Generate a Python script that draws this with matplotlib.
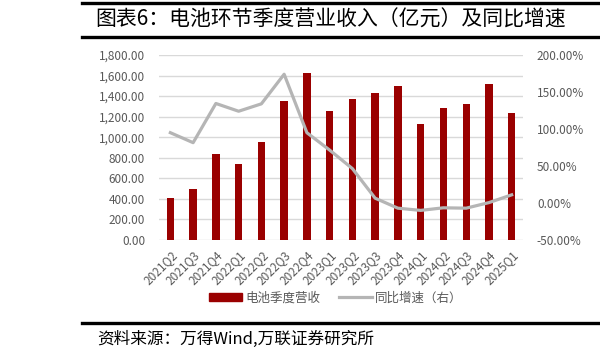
import matplotlib
matplotlib.use("Agg")
import matplotlib.pyplot as plt
from matplotlib.lines import Line2D
from matplotlib.patches import Patch

plt.rcParams['font.family'] = ['Noto Sans CJK SC', 'DejaVu Sans']

quarters = ["2021Q2", "2021Q3", "2021Q4", "2022Q1", "2022Q2", "2022Q3",
            "2022Q4", "2023Q1", "2023Q2", "2023Q3", "2023Q4", "2024Q1",
            "2024Q2", "2024Q3", "2024Q4", "2025Q1"]
revenue = [408, 497, 832, 738, 956, 1352, 1621, 1258, 1374, 1430, 1497,
           1127, 1286, 1320, 1513, 1238]
yoy = [95.0, 81.5, 134.5, 124.0, 134.0, 174.0, 95.0, 71.5, 46.5, 6.5,
       -7.0, -10.0, -6.5, -7.0, 0.5, 11.0]

ticks_left = [0, 200, 400, 600, 800, 1000, 1200, 1400, 1600, 1800]
ticks_right = [-50, 0, 50, 100, 150, 200]

bar_color = "#9A0000"
line_color = "#B5B5B5"
text_gray = "#595959"

fig = plt.figure(figsize=(6, 3.59), dpi=100)
ax = fig.add_axes([0.265, 0.3315, 0.6067, 0.5153])
ax2 = ax.twinx()

x = range(len(quarters))
ax.bar(x, revenue, width=0.32, color=bar_color, zorder=2)
ax2.plot(x, yoy, color=line_color, lw=2.3, zorder=3, solid_joinstyle="round")

ax.set_xlim(-0.5, len(quarters) - 0.5)
ax.set_ylim(0, 1800)
ax.set_yticks(ticks_left)
ax.set_yticklabels([f"{v:,.2f}" for v in ticks_left])
ax2.set_ylim(-50, 200)
ax2.set_yticks(ticks_right)
ax2.set_yticklabels([f"{v:.2f}%" for v in ticks_right])

ax.grid(axis="y", color="#D9D9D9", lw=1, zorder=0)
ax.set_axisbelow(True)
for a in (ax, ax2):
    for s in a.spines.values():
        s.set_visible(False)
    a.tick_params(length=0, labelsize=8.5, labelcolor=text_gray)
ax.tick_params(axis="y", pad=10)
ax2.tick_params(axis="y", pad=10)

ax.set_xticks(list(x))
ax.set_xticklabels(quarters, rotation=45, ha="right", rotation_mode="anchor")
ax.tick_params(axis="x", pad=6)

handles = [Patch(color=bar_color), Line2D([], [], color=line_color, lw=2.3)]
fig.legend(handles, ["电池季度营收", "同比增速（右）"], loc="center",
           bbox_to_anchor=(0.56, 1 - 298 / 359), ncol=2, frameon=False,
           fontsize=9, labelcolor=text_gray, handlelength=2.6,
           handleheight=0.6, columnspacing=1.5, handletextpad=0.3)

# frame lines and texts
for yy in (3, 37, 323):
    fig.add_artist(Line2D([82 / 600, 1], [1 - yy / 359] * 2, color="black", lw=2.4))
fig.text(95 / 600, 1 - 20 / 359, "图表6：电池环节季度营业收入（亿元）及同比增速",
         fontsize=15, va="center", ha="left", color="black")
fig.text(97 / 600, 1 - 339 / 359, "资料来源：万得Wind,万联证券研究所",
         fontsize=12, va="center", ha="left", color="black", style="italic")

fig.savefig("out.png", dpi=100)
